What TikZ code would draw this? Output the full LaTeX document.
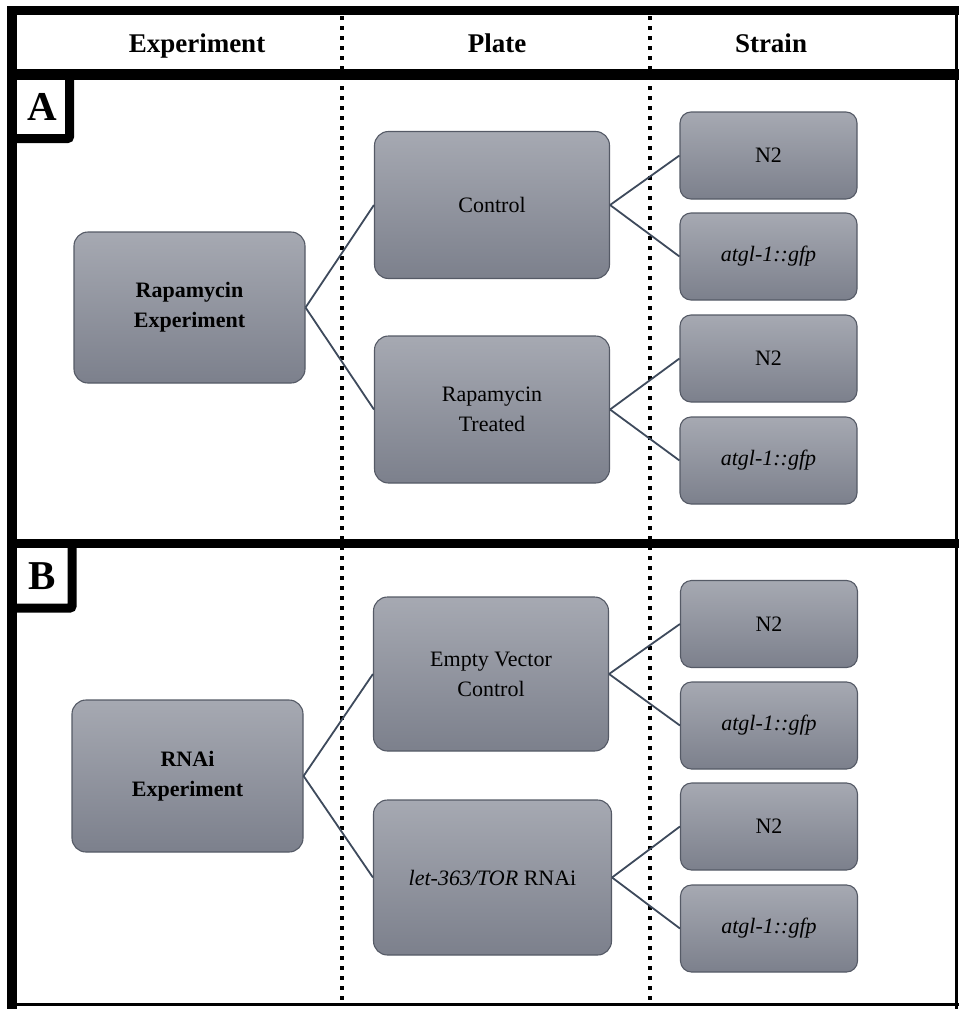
\documentclass[tikz,border=0pt]{standalone}
\usepackage{fontspec}
\setmainfont{Liberation Serif}
\definecolor{boxtop}{RGB}{166,169,178}
\definecolor{boxbot}{RGB}{124,128,140}
\definecolor{boxedge}{RGB}{85,90,102}
\definecolor{linkcol}{RGB}{62,74,92}
\tikzset{
  gbox/.style={draw=boxedge, line width=1.1pt, rounded corners=14pt, top color=boxtop, bottom color=boxbot, inner sep=0pt, align=center, font=\fontsize{22}{30}\selectfont},
  bigbox/.style={gbox, minimum width=231pt, minimum height=151pt},
  platebox/.style={gbox, minimum width=235pt, minimum height=147pt},
  strainbox/.style={gbox, minimum width=177pt, minimum height=87pt, rounded corners=11pt},
  link/.style={draw=linkcol, line width=1.8pt},
  frame/.style={line width=#1, draw=black},
  dotline/.style={line width=4.5pt, dash pattern=on 4pt off 6pt},
  header/.style={font=\fontsize{27}{30}\selectfont\bfseries, anchor=base},
  letter/.style={font=\fontsize{41}{41}\selectfont\bfseries}
}
\begin{document}
\begin{tikzpicture}[x=1pt,y=-1pt]
\useasboundingbox (0,0) rectangle (959,1009);
% dotted column separators
\draw[dotline] (342,16) -- (342,1003);
\draw[dotline] (650,16) -- (650,1003);
% outer frame and separators
\draw[frame=10pt] (12,1009) -- (12,6);
\draw[frame=9pt] (7,10.5) -- (959,10.5);
\draw[frame=3pt] (956.5,6) -- (956.5,1009);
\draw[frame=3pt] (7,1004.5) -- (959,1004.5);
\draw[frame=11pt] (7,74) -- (959,74);
\draw[frame=9pt] (7,543.5) -- (959,543.5);
% label boxes
\draw[frame=9pt, rounded corners=2pt] (7,138.5) -- (69.5,138.5) -- (69.5,74);
\draw[frame=9pt, rounded corners=2pt] (7,608) -- (72,608) -- (72,543.5);
\node[letter] (la) at (42.5,106.5) {A};
\node[letter] (lb) at (42,576) {B};
% headers
\node[header] (h1) at (197,52) {Experiment};
\node[header] (h2) at (497,52) {Plate};
\node[header] (h3) at (771,52) {Strain};
% section A
\node[bigbox] (rexp) at (189.5,307.5) {\bfseries Rapamycin\\\bfseries Experiment};
\node[platebox] (ctrl) at (492,205) {Control};
\node[platebox] (trt) at (492,409.5) {Rapamycin\\Treated};
\node[strainbox] (n2a) at (768.5,155.5) {N2};
\node[strainbox] (ga) at (768.5,256.5) {\itshape atgl-1::gfp};
\node[strainbox] (n2b) at (768.5,358.5) {N2};
\node[strainbox] (gb) at (768.5,460.5) {\itshape atgl-1::gfp};
% section B
\node[bigbox, minimum height=152pt] (rnai) at (187.5,776) {\bfseries RNAi\\\bfseries Experiment};
\node[platebox, minimum height=154pt] (evc) at (491,674) {Empty Vector\\Control};
\node[platebox, minimum width=238pt, minimum height=155pt] (tor) at (492.5,877.5) {\textit{let-363/TOR} RNAi};
\node[strainbox] (n2c) at (769,624) {N2};
\node[strainbox] (gc) at (769,725.5) {\itshape atgl-1::gfp};
\node[strainbox] (n2d) at (769,826.5) {N2};
\node[strainbox] (gd) at (769,928.5) {\itshape atgl-1::gfp};
% connectors
\draw[link] (rexp.east) -- (ctrl.west);
\draw[link] (rexp.east) -- (trt.west);
\draw[link] (ctrl.east) -- (n2a.west);
\draw[link] (ctrl.east) -- (ga.west);
\draw[link] (trt.east) -- (n2b.west);
\draw[link] (trt.east) -- (gb.west);
\draw[link] (rnai.east) -- (evc.west);
\draw[link] (rnai.east) -- (tor.west);
\draw[link] (evc.east) -- (n2c.west);
\draw[link] (evc.east) -- (gc.west);
\draw[link] (tor.east) -- (n2d.west);
\draw[link] (tor.east) -- (gd.west);
\end{tikzpicture}
\end{document}
